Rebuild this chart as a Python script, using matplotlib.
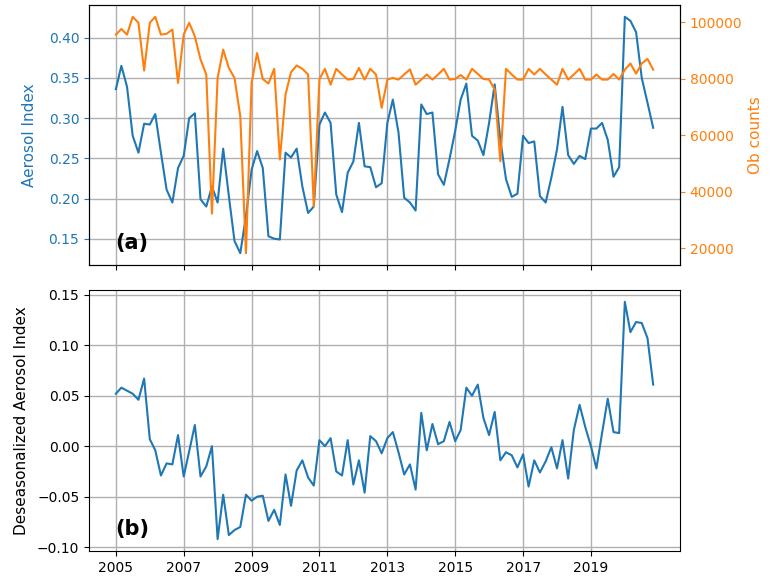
import numpy as np
import pandas as pd
import matplotlib
matplotlib.use("Agg")
import matplotlib.pyplot as plt
import matplotlib.dates as mdates

# time axis: one value every two months, Jan 2005 .. Nov 2020
dates = pd.date_range("2005-01-01", periods=96, freq="2MS")
tick_years = ["2005", "2007", "2009", "2011", "2013", "2015", "2017", "2019"]

# aerosol index (top panel, left axis)
aerosol_index = [
    0.336, 0.365, 0.339, 0.278, 0.257, 0.293, 0.292, 0.305, 0.257, 0.211, 0.195, 0.238,
    0.253, 0.300, 0.306, 0.199, 0.190, 0.215, 0.195, 0.262, 0.203, 0.147, 0.132, 0.178,
    0.236, 0.259, 0.238, 0.153, 0.150, 0.149, 0.257, 0.251, 0.262, 0.215, 0.182, 0.190,
    0.292, 0.307, 0.294, 0.205, 0.183, 0.232, 0.246, 0.294, 0.240, 0.239, 0.214, 0.219,
    0.294, 0.323, 0.282, 0.201, 0.195, 0.185, 0.317, 0.305, 0.307, 0.230, 0.217, 0.249,
    0.284, 0.323, 0.343, 0.278, 0.272, 0.254, 0.294, 0.342, 0.273, 0.224, 0.202, 0.206,
    0.278, 0.269, 0.271, 0.203, 0.195, 0.226, 0.261, 0.314, 0.254, 0.243, 0.253, 0.249,
    0.287, 0.287, 0.294, 0.273, 0.227, 0.239, 0.426, 0.421, 0.407, 0.350, 0.319, 0.288,
]

# number of observations (top panel, right axis)
ob_counts = [
    95600, 97600, 95600, 101900, 99800, 82900, 99800, 101900, 95600, 95900, 97400, 78500,
    95600, 99800, 95000, 86800, 81500, 32300, 80300, 90300, 83800, 80300, 66700, 18300,
    78500, 89100, 79900, 78300, 83500, 51400, 74400, 82300, 84700, 83500, 81500, 34900,
    79900, 83500, 77900, 83500, 81500, 79700, 79900, 83800, 79700, 83500, 81500, 69700,
    79700, 80300, 79700, 81500, 83300, 77900, 79700, 81500, 79700, 81500, 83500, 79700,
    79900, 81300, 79700, 83500, 81700, 79900, 79700, 76200, 50800, 83500, 81500, 79700,
    79700, 83500, 81500, 83500, 81500, 79700, 77900, 83500, 79700, 81500, 83500, 79700,
    79700, 81500, 79700, 79700, 81700, 79700, 83200, 85400, 81800, 85400, 87000, 83200,
]

# deseasonalized aerosol index (bottom panel)
deseasonalized = [
    0.052, 0.058, 0.055, 0.052, 0.046, 0.067, 0.007, -0.004, -0.029, -0.017, -0.018, 0.011,
    -0.030, -0.005, 0.021, -0.030, -0.020, 0.000, -0.092, -0.048, -0.088, -0.083, -0.080, -0.048,
    -0.054, -0.050, -0.049, -0.074, -0.063, -0.078, -0.028, -0.059, -0.024, -0.014, -0.031, -0.039,
    0.006, 0.000, 0.008, -0.025, -0.029, 0.006, -0.038, -0.014, -0.046, 0.010, 0.005, -0.007,
    0.008, 0.014, -0.006, -0.028, -0.018, -0.043, 0.033, -0.004, 0.022, 0.002, 0.005, 0.024,
    0.005, 0.016, 0.058, 0.050, 0.061, 0.028, 0.011, 0.034, -0.014, -0.006, -0.009, -0.021,
    -0.008, -0.040, -0.014, -0.026, -0.015, -0.001, -0.022, 0.006, -0.032, 0.016, 0.041, 0.019,
    0.000, -0.022, 0.013, 0.047, 0.014, 0.013, 0.143, 0.113, 0.123, 0.122, 0.107, 0.061,
]

fig = plt.figure(figsize=(7.74, 5.82), dpi=100)
ax1 = fig.add_axes([0.115, 0.5447, 0.7636, 0.4467])
ax3 = fig.add_axes([0.115, 0.0533, 0.7636, 0.4485], sharex=ax1)

#top panel: aerosol index + ob counts
ax1.plot(dates, aerosol_index, color="tab:blue")
ax1.set_ylabel("Aerosol Index", color="tab:blue", fontsize=11, labelpad=8)
ax1.tick_params(axis="y", colors="tab:blue", labelsize=10)
ax1.grid(True, linewidth=1.0)
ax1.text(0.045, 0.06, "(a)", transform=ax1.transAxes, fontsize=15, fontweight="bold")
plt.setp(ax1.get_xticklabels(), visible=False)

ax2 = ax1.twinx()
ax2.plot(dates, ob_counts, color="tab:orange")
ax2.set_ylabel("Ob counts", color="tab:orange", fontsize=11)
ax2.tick_params(axis="y", colors="tab:orange", labelsize=10)

#bottom panel: deseasonalized
ax3.plot(dates, deseasonalized, color="tab:blue")
ax3.set_ylabel("Deseasonalized Aerosol Index", fontsize=11, labelpad=6)
ax3.grid(True, linewidth=1.0)
ax3.text(0.045, 0.06, "(b)", transform=ax3.transAxes, fontsize=15, fontweight="bold")
ax3.set_xticks(pd.to_datetime(tick_years))
ax3.xaxis.set_major_formatter(mdates.DateFormatter("%Y"))
ax3.tick_params(labelsize=10)

fig.savefig("out.png", dpi=100)
